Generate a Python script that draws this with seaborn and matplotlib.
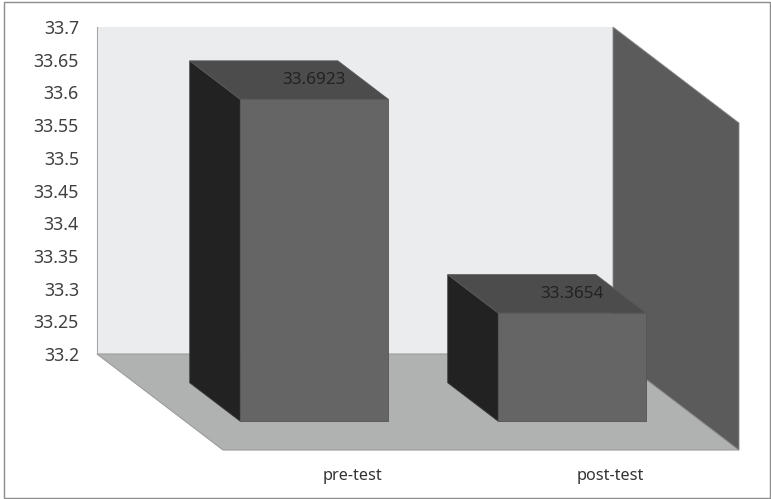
import numpy as np
import matplotlib
matplotlib.use("Agg")
import matplotlib.pyplot as plt
from matplotlib.patches import Polygon, Rectangle
from matplotlib.transforms import ScaledTranslation
import seaborn as sns

categories = ["pre-test", "post-test"]
values = [33.6923, 33.3654]
value_labels = ["33.6923", "33.3654"]
yticks = [33.2, 33.25, 33.3, 33.35, 33.4, 33.45, 33.5, 33.55, 33.6, 33.65, 33.7]
ytick_labels = ["33.2", "33.25", "33.3", "33.35", "33.4", "33.45", "33.5", "33.55", "33.6", "33.65", "33.7"]
base, ymax = 33.2, 33.7

# colours of the pseudo-3d excel look
back_wall = "#ebecee"
floor_col = "#b0b1b1"
side_wall = "#5b5b5b"
front_col = "#646564"
side_col = "#222222"
top_col = "#4b4c4b"
text_col = "#333333"

# depth of the plot box in inches (dpi 100)
DX, DY = 1.26, 0.96
d0, d1 = 0.3, 0.7  # bar depth span

sns.set_theme(style="white")
plt.rcParams["font.family"] = ["Noto Sans", "DejaVu Sans"]

fig = plt.figure(figsize=(7.71, 4.99), dpi=100)
ax = fig.add_axes([97 / 771, (499 - 354) / 499, 516 / 771, 327 / 499])
ax.set_facecolor(back_wall)

sns.barplot(x=categories, y=values, ax=ax, width=0.574, color=front_col,
            saturation=1, errorbar=None, zorder=3)
ax.set_xlim(-0.5, 1.5)
ax.set_ylim(base, ymax)


def depth(d, dx=None):
    dx = d if dx is None else dx
    return ax.transData + ScaledTranslation(dx * DX, -d * DY, fig.dpi_scale_trans)


def proj(x, y, d):
    p = depth(d).transform((x, y))
    return fig.transFigure.inverted().transform(p)


def face(pts, color, z, ec=None, lw=0.6):
    ax.add_patch(Polygon(pts, closed=True, facecolor=color, edgecolor=ec or color,
                         lw=lw, transform=fig.transFigure, clip_on=False, zorder=z))


x0, x1 = ax.get_xlim()
# floor and right wall
face([proj(x0, base, 0), proj(x1, base, 0), proj(x1, base, 1), proj(x0, base, 1)],
     floor_col, 1, ec="#9c9c9c", lw=0.8)
face([proj(x1, base, 0), proj(x1, ymax, 0), proj(x1, ymax, 1), proj(x1, base, 1)],
     side_wall, 1.5, ec="#8a8a8a", lw=0.6)

# bars: front face from seaborn, side and top faces added
for i, patch in enumerate(ax.patches[:len(values)]):
    patch.set_y(base)
    patch.set_height(values[i] - base)
    patch.set_transform(depth(d1))
    patch.set_clip_on(False)
    patch.set_edgecolor("#555555")
    patch.set_linewidth(0.6)
    bx, w = patch.get_x(), patch.get_width()
    top = values[i]
    z = 3 + i
    patch.set_zorder(z + 0.2)
    face([proj(bx, base, d0), proj(bx, top, d0), proj(bx, top, d1), proj(bx, base, d1)],
         side_col, z, ec="#3a3a3a")
    face([proj(bx, top, d0), proj(bx + w, top, d0), proj(bx + w, top, d1), proj(bx, top, d1)],
         top_col, z + 0.1, ec="#5a5a5a")
    ax.text(bx + w / 2, top, value_labels[i], transform=depth(0.5, d1),
            ha="center", va="center", fontsize=12.3, color="#222222", zorder=10)

ax.set_yticks(yticks)
ax.set_yticklabels(ytick_labels)
ax.tick_params(axis="y", length=0, pad=13, labelsize=12.8, colors="#404040")
ax.tick_params(axis="x", length=0, pad=13, labelsize=11.7, colors=text_col)
for lab in ax.get_xticklabels():
    lab.set_transform(lab.get_transform() + ScaledTranslation(DX, -DY, fig.dpi_scale_trans))
ax.set_xlabel("")
ax.set_ylabel("")
for s in ["top", "right", "bottom"]:
    ax.spines[s].set_visible(False)
ax.spines["left"].set_color("#a6a6a6")
ax.spines["left"].set_linewidth(0.8)

# outer chart border
fig.add_artist(Rectangle((3.5 / 771, 1.5 / 499), 766 / 771, 496 / 499,
                         transform=fig.transFigure, fill=False, ec="#8c8c8c", lw=1))

fig.savefig("out.png", dpi=100)
